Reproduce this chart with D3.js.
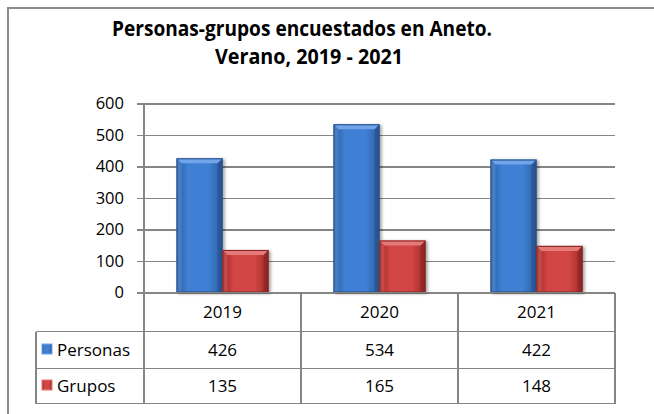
<!DOCTYPE html>
<head>
<meta charset="utf-8">
<style>
body { margin: 0; background: #fff; }
svg text { font-family: "Open Sans", sans-serif; fill: #000; }
.grid, .tbl { stroke: #858585; stroke-width: 1.5px; shape-rendering: crispEdges; }
</style>
</head>
<body>
<script src="https://d3js.org/d3.v7.min.js"></script>
<script>
// chart data
var years = ["2019", "2020", "2021"];
var series = ["Personas", "Grupos"];
var personas = [426, 534, 422];
var grupos = [135, 165, 148];
var yTicks = [0, 100, 200, 300, 400, 500, 600];
var titleLines = ["Personas-grupos encuestados en Aneto.", "Verano, 2019 - 2021"];

var values = { Personas: personas, Grupos: grupos };

var W = 654, H = 414;
var plot = { left: 144, right: 615, top: 103.5, bottom: 292.5 };
var rows = [292.5, 331.5, 368.5, 403.5];   // table row lines
var legendLeft = 36;

var svg = d3.select("body").append("svg")
    .attr("width", W).attr("height", H);

svg.append("rect").attr("width", W).attr("height", H).attr("fill", "#fff");

// outer chart border
svg.append("rect")
    .attr("x", 8).attr("y", 8)
    .attr("width", W).attr("height", H)
    .attr("fill", "none")
    .attr("stroke", "#8c8c8c").attr("stroke-width", 2);

// gradients for the bevelled bars
var defs = svg.append("defs");
var palette = {
  Personas: { edge: "#2c5d9e", mid: "#3f80d4", light: "#6fa5ea", dark: "#244d85" },
  Grupos:   { edge: "#9e2a28", mid: "#d24644", light: "#e67a78", dark: "#842220" }
};
series.forEach(function (s) {
  var g = defs.append("linearGradient").attr("id", "g-" + s)
      .attr("x1", 0).attr("x2", 1).attr("y1", 0).attr("y2", 0);
  g.append("stop").attr("offset", "0%").attr("stop-color", palette[s].edge);
  g.append("stop").attr("offset", "25%").attr("stop-color", palette[s].mid);
  g.append("stop").attr("offset", "70%").attr("stop-color", palette[s].mid);
  g.append("stop").attr("offset", "100%").attr("stop-color", palette[s].edge);
});
var shadow = defs.append("filter").attr("id", "shadow")
    .attr("x", "-20%").attr("y", "-10%").attr("width", "150%").attr("height", "130%");
shadow.append("feDropShadow").attr("dx", 2).attr("dy", 1)
    .attr("stdDeviation", 1.5).attr("flood-color", "#000").attr("flood-opacity", 0.35);

// scales
var x = d3.scaleBand().domain(years).range([plot.left, plot.right]);
var xSub = d3.scaleBand().domain(series)
    .range([32.5, x.bandwidth() - 32.5]);
var y = d3.scaleLinear().domain([0, 600]).range([plot.bottom, plot.top]);

// title
svg.append("g").selectAll("text")
  .data(titleLines)
  .join("text")
    .attr("x", function (d, i) { return i === 0 ? 112 : 215; })
    .attr("y", function (d, i) { return 36 + i * 28; })
    .attr("textLength", function (d, i) { return i === 0 ? 380 : 188; })
    .attr("lengthAdjust", "spacingAndGlyphs")
    .style("font-size", "21px")
    .style("font-weight", "bold")
    .text(function (d) { return d; });

// y axis with gridlines
var yAxis = d3.axisLeft(y).tickValues(yTicks).tickSize(7).tickPadding(13);
var ya = svg.append("g")
    .attr("transform", "translate(" + plot.left + ",0)")
    .call(yAxis);
ya.select(".domain").remove();
ya.selectAll(".tick line").classed("grid", true).attr("stroke", null);
ya.selectAll(".tick text").style("font-size", "16.5px").attr("fill", null);
ya.selectAll(".tick").append("line")
    .classed("grid", true)
    .attr("x1", 0).attr("x2", plot.right - plot.left);

// bars
var groups = svg.append("g").selectAll("g")
  .data(years)
  .join("g")
    .attr("transform", function (d) { return "translate(" + x(d) + ",0)"; });

var bars = groups.selectAll("g")
  .data(function (d, i) {
    return series.map(function (s) { return { s: s, v: values[s][i] }; });
  })
  .join("g")
    .attr("filter", "url(#shadow)");

var bev = 5;
bars.append("rect")
    .attr("x", function (d) { return xSub(d.s); })
    .attr("y", function (d) { return y(d.v); })
    .attr("width", xSub.bandwidth())
    .attr("height", function (d) { return y(0) - y(d.v); })
    .attr("fill", function (d) { return "url(#g-" + d.s + ")"; });

// left side bevel (lighter)
bars.append("path")
    .attr("fill", function (d) { return palette[d.s].light; })
    .attr("opacity", 0.35)
    .attr("d", function (d) {
      var x0 = xSub(d.s), t = y(d.v), b = y(0);
      return "M" + x0 + "," + t + "L" + (x0 + bev) + "," + (t + bev) +
             "L" + (x0 + bev) + "," + b + "L" + x0 + "," + b + "Z";
    });
// right side bevel (darker)
bars.append("path")
    .attr("fill", function (d) { return palette[d.s].dark; })
    .attr("opacity", 0.55)
    .attr("d", function (d) {
      var x1 = xSub(d.s) + xSub.bandwidth(), t = y(d.v), b = y(0);
      return "M" + x1 + "," + t + "L" + x1 + "," + b +
             "L" + (x1 - bev) + "," + b + "L" + (x1 - bev) + "," + (t + bev) + "Z";
    });
// top bevel
bars.append("path")
    .attr("fill", function (d) { return palette[d.s].light; })
    .attr("d", function (d) {
      var x0 = xSub(d.s), x1 = x0 + xSub.bandwidth(), t = y(d.v);
      return "M" + x0 + "," + t + "L" + x1 + "," + t +
             "L" + (x1 - bev) + "," + (t + bev) + "L" + (x0 + bev) + "," + (t + bev) + "Z";
    });
bars.append("rect")
    .attr("x", function (d) { return xSub(d.s) + 0.5; })
    .attr("y", function (d) { return y(d.v) + 0.5; })
    .attr("width", xSub.bandwidth() - 1)
    .attr("height", function (d) { return y(0) - y(d.v) - 1; })
    .attr("fill", "none")
    .attr("stroke", function (d) { return palette[d.s].dark; })
    .attr("stroke-width", 1);

// data table
var tbl = svg.append("g");
tbl.append("line").classed("tbl", true)
    .attr("x1", plot.left).attr("x2", plot.right)
    .attr("y1", rows[0]).attr("y2", rows[0]);
// y axis line running down into the table
tbl.append("line").classed("tbl", true)
    .attr("x1", plot.left).attr("x2", plot.left)
    .attr("y1", plot.top).attr("y2", rows[3]);
tbl.selectAll("line.col")
  .data(years)
  .join("line")
    .attr("class", "tbl col")
    .attr("x1", function (d) { return x(d) + x.bandwidth(); })
    .attr("x2", function (d) { return x(d) + x.bandwidth(); })
    .attr("y1", rows[0]).attr("y2", rows[3]);
tbl.selectAll("line.row")
  .data(rows.slice(1))
  .join("line")
    .attr("class", "tbl row")
    .attr("x1", legendLeft).attr("x2", plot.right)
    .attr("y1", function (d) { return d; })
    .attr("y2", function (d) { return d; });
tbl.append("line").classed("tbl", true)
    .attr("x1", legendLeft).attr("x2", legendLeft)
    .attr("y1", rows[1]).attr("y2", rows[3]);

// header labels
tbl.selectAll("text.yr")
  .data(years)
  .join("text")
    .attr("class", "yr")
    .attr("x", function (d) { return x(d) + x.bandwidth() / 2; })
    .attr("y", (rows[0] + rows[1]) / 2)
    .attr("dy", "0.35em")
    .attr("text-anchor", "middle")
    .style("font-size", "17px")
    .text(function (d) { return d; });

// series rows
series.forEach(function (s, si) {
  var cy = (rows[si + 1] + rows[si + 2]) / 2;
  tbl.append("rect")
      .attr("x", 42).attr("y", cy - 6)
      .attr("width", 10).attr("height", 10)
      .attr("fill", "url(#g-" + s + ")")
      .attr("stroke", palette[s].light).attr("stroke-width", 1);
  tbl.append("text")
      .attr("x", 57).attr("y", cy).attr("dy", "0.35em")
      .style("font-size", "17px")
      .text(s);
  tbl.selectAll("text.v" + si)
    .data(values[s])
    .join("text")
      .attr("x", function (d, i) { return x(years[i]) + x.bandwidth() / 2; })
      .attr("y", cy).attr("dy", "0.35em")
      .attr("text-anchor", "middle")
      .style("font-size", "17px")
      .text(function (d) { return d; });
});
</script>
</body>
</html>
